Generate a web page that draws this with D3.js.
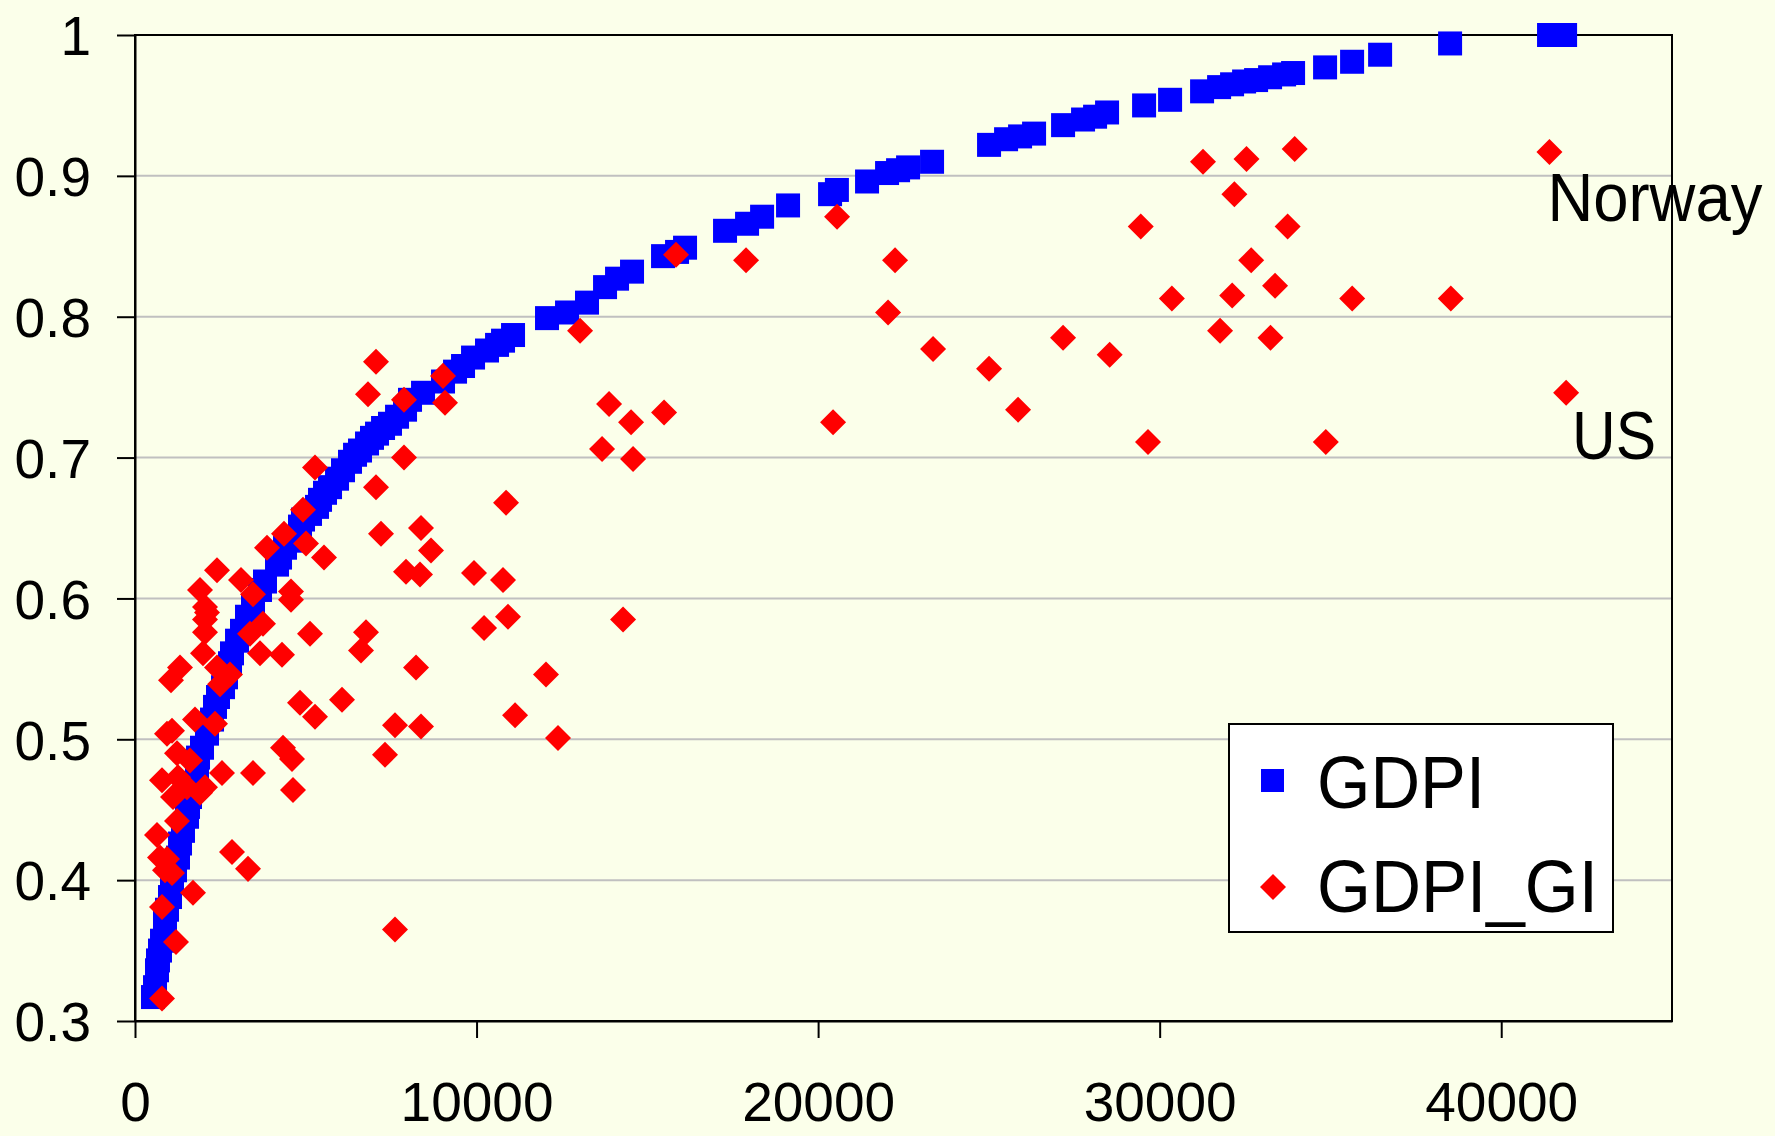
<!DOCTYPE html>
<html>
<head>
<meta charset="utf-8">
<script src="https://cdn.jsdelivr.net/npm/d3@7"></script>
<style>
  body { margin: 0; background: #fbffea; }
  svg { display: block; }
  text { font-family: "Liberation Sans", Arial, sans-serif; fill: #000; }
</style>
</head>
<body>
<svg id="chart" width="1775" height="1136"></svg>
<script>
var gdpiIncome = [527, 586, 644, 673, 732, 791, 878, 937, 1025, 1083, 1171, 1259, 1318, 1405, 1523, 1552, 1610, 1698,
  1815, 1845, 1962, 2108, 2255, 2342, 2430, 2577, 2664, 2782, 2840, 2987, 3133, 3279, 3455, 3660, 3806, 4158, 4246,
  4392, 4597, 4831, 4919, 5124, 5329, 5417, 5563, 5710, 5915, 6090, 6295, 6442, 6588, 6793, 6939, 7086, 7262, 7466,
  7672, 7906, 8052, 8433, 9018, 9370, 9604, 9897, 10306, 10600, 10775, 11068, 12063, 12649, 13234, 13762, 14113,
  14552, 15460, 15870, 16104, 17275, 17920, 18360, 19120, 20350, 20550, 21433, 22019, 22341, 22634, 23336, 25005,
  25503, 25913, 26323, 27172, 27757, 28109, 28460, 29544, 30305, 31242, 31740, 32120, 32472, 32823, 33233, 33643,
  33906, 34843, 35634, 36454, 38503, 41400, 41870];
var gdpiValue = [0.317, 0.324, 0.336, 0.343, 0.350, 0.357, 0.371, 0.379, 0.388, 0.398, 0.407, 0.416, 0.426, 0.435, 0.445, 0.452, 0.459, 0.469,
  0.478, 0.487, 0.494, 0.504, 0.514, 0.523, 0.530, 0.537, 0.544, 0.554, 0.561, 0.570, 0.577, 0.587, 0.594, 0.606, 0.612, 0.624, 0.629,
  0.636, 0.641, 0.651, 0.656, 0.660, 0.665, 0.670, 0.675, 0.679, 0.685, 0.691, 0.697, 0.702, 0.705, 0.710, 0.714, 0.717, 0.721, 0.724,
  0.729, 0.734, 0.741, 0.746, 0.754, 0.761, 0.765, 0.771, 0.776, 0.780, 0.783, 0.787, 0.799, 0.803, 0.810, 0.821, 0.827,
  0.832, 0.843, 0.846, 0.849, 0.861, 0.866, 0.871, 0.879, 0.887, 0.890, 0.896, 0.902, 0.904, 0.906, 0.910, 0.922,
  0.926, 0.928, 0.930, 0.936, 0.940, 0.942, 0.945, 0.950, 0.954, 0.960, 0.963, 0.965, 0.967, 0.968, 0.970, 0.972,
  0.973, 0.977, 0.981, 0.986, 0.994, 1.000, 1.000];

// GDPI_GI:
var giIncome = [31268, 32542, 33953, 41411, 32188, 29447, 33746, 32680, 30357, 32124, 33379, 35637, 38524, 31769, 33245,
  28537, 41900, 29658, 34865,
  15840, 17890, 20555, 22253, 22048, 23365, 25005, 27172, 25854, 20438, 13879, 14523, 15489, 13674, 14582, 14289, 13030,
  10863, 10775, 10921, 9926, 10219, 11127, 12034, 12385,
  7056, 6822, 7876, 9018, 9077, 7876, 5270, 7056, 4919, 7203, 8374, 4363, 3865, 5007, 5534, 8667, 7935, 8345, 2401, 3103,
  3455, 4568, 4568, 1903, 2050, 2108, 2050, 2050, 3748, 3367, 5124, 6764, 6617, 8228, 4304, 3660, 1318, 1054, 1991, 2401,
  2782, 2489, 4831, 5270, 6061, 7613, 8374, 1757, 2342, 937, 1083, 1230, 1610, 4333, 4597, 7320, 2547, 3455, 4626, 791,
  1259, 1523, 1903, 2050, 1113, 1230, 644, 732, 937, 878, 1083, 1698, 791, 2840, 3309, 7613, 1200, 791];
var giValue = [0.910, 0.912, 0.919, 0.917, 0.887, 0.864, 0.864, 0.840, 0.813, 0.815, 0.822, 0.813, 0.813, 0.790, 0.785,
  0.773, 0.746, 0.711, 0.711,
  0.844, 0.840, 0.871, 0.840, 0.803, 0.777, 0.763, 0.785, 0.734, 0.725, 0.738, 0.725, 0.732, 0.706, 0.699, 0.585, 0.790,
  0.668, 0.613, 0.587, 0.618, 0.579, 0.517, 0.546, 0.501,
  0.768, 0.745, 0.741, 0.758, 0.739, 0.700, 0.693, 0.679, 0.663, 0.646, 0.650, 0.646, 0.636, 0.639, 0.629, 0.634, 0.619, 0.617, 0.620, 0.613,
  0.603, 0.605, 0.599, 0.606, 0.594, 0.590, 0.585, 0.576, 0.582, 0.575, 0.575, 0.576, 0.563, 0.551, 0.560, 0.561, 0.551, 0.542, 0.561, 0.551,
  0.546, 0.539, 0.526, 0.516, 0.528, 0.510, 0.509, 0.514, 0.511, 0.504, 0.506, 0.490, 0.485, 0.494, 0.486, 0.489, 0.476, 0.476, 0.464, 0.471,
  0.473, 0.466, 0.462, 0.466, 0.459, 0.442, 0.432, 0.416, 0.415, 0.407, 0.405, 0.391, 0.381, 0.420, 0.408, 0.365, 0.356, 0.316];

var xTicks = [0, 10000, 20000, 30000, 40000];
var yTicks = [0.3, 0.4, 0.5, 0.6, 0.7, 0.8, 0.9, 1];
var seriesNames = ['GDPI', 'GDPI_GI'];
var notes = [{name: 'Norway', point: 3}, {name: 'US', point: 16}];

var svg = d3.select('#chart');
var plotLeft = 135, plotRight = 1672, plotTop = 35, plotBottom = 1021;

var x = d3.scaleLinear().domain([0, 45000]).range([plotLeft, plotRight]);
var y = d3.scaleLinear().domain([0.3, 1]).range([plotBottom, plotTop]);

var gdpi = gdpiIncome.map(function(d, i) { return {x: d, y: gdpiValue[i]}; });
var gi = giIncome.map(function(d, i) { return {x: d, y: giValue[i]}; });

// gridlines
svg.append('g')
  .selectAll('line')
  .data(yTicks.slice(1, -1))
  .enter().append('line')
  .attr('x1', plotLeft).attr('x2', plotRight)
  .attr('y1', function(d) { return y(d); })
  .attr('y2', function(d) { return y(d); })
  .attr('stroke', '#c0c0c0')
  .attr('stroke-width', 2);

// plot frame
svg.append('rect')
  .attr('x', plotLeft).attr('y', plotTop)
  .attr('width', plotRight - plotLeft).attr('height', plotBottom - plotTop)
  .attr('fill', 'none')
  .attr('stroke', '#000')
  .attr('stroke-width', 2);

var yAxis = svg.append('g')
  .attr('transform', 'translate(' + plotLeft + ',0)')
  .call(d3.axisLeft(y).tickValues(yTicks).tickSize(18).tickSizeOuter(0).tickPadding(26)
    .tickFormat(d3.format('~g')));

var xAxis = svg.append('g')
  .attr('transform', 'translate(0,' + plotBottom + ')')
  .call(d3.axisBottom(x).tickValues(xTicks).tickSize(17).tickSizeOuter(0).tickPadding(44)
    .tickFormat(d3.format('d')));

[yAxis, xAxis].forEach(function(ax) {
  ax.select('.domain').attr('stroke', '#000').attr('stroke-width', 2);
  ax.selectAll('.tick line').attr('stroke', '#000').attr('stroke-width', 2);
  ax.selectAll('.tick text').attr('font-size', 55).attr('fill', '#000')
    .style('font-family', '"Liberation Sans", Arial, sans-serif');
});
yAxis.selectAll('.tick text').attr('dy', '0.36em');

var sq = 24;
svg.append('g')
  .selectAll('rect')
  .data(gdpi)
  .enter().append('rect')
  .attr('x', function(d) { return x(d.x) - sq / 2; })
  .attr('y', function(d) { return y(d.y) - sq / 2; })
  .attr('width', sq).attr('height', sq)
  .attr('fill', '#0000ff');

var diamond = d3.symbol().type(d3.symbolSquare).size(338);
svg.append('g')
  .selectAll('path')
  .data(gi)
  .enter().append('path')
  .attr('d', diamond)
  .attr('transform', function(d) { return 'translate(' + x(d.x) + ',' + y(d.y) + ') rotate(45)'; })
  .attr('fill', '#ff0000');

// country notes
var noteDx = {Norway: -2, US: 6}, noteDy = {Norway: 69, US: 66}, noteW = {Norway: 215, US: 84};
svg.append('g')
  .selectAll('text')
  .data(notes)
  .enter().append('text')
  .attr('x', function(d) { return x(gi[d.point].x) + noteDx[d.name]; })
  .attr('y', function(d) { return y(gi[d.point].y) + noteDy[d.name]; })
  .attr('font-size', 68)
  .attr('textLength', function(d) { return noteW[d.name]; })
  .attr('lengthAdjust', 'spacingAndGlyphs')
  .text(function(d) { return d.name; });

// legend
var legend = svg.append('g').attr('transform', 'translate(1229,724)');
legend.append('rect')
  .attr('width', 384).attr('height', 208)
  .attr('fill', '#fff').attr('stroke', '#000').attr('stroke-width', 2);
legend.append('rect')
  .attr('x', 32).attr('y', 45).attr('width', 23).attr('height', 23)
  .attr('fill', '#0000ff');
legend.append('path')
  .attr('d', diamond)
  .attr('transform', 'translate(44,163) rotate(45)')
  .attr('fill', '#ff0000');
var legW = [168, 281];
legend.selectAll('text.leg')
  .data(seriesNames)
  .enter().append('text')
  .attr('class', 'leg')
  .attr('x', 88)
  .attr('y', function(d, i) { return 84 + i * 104; })
  .attr('font-size', 75)
  .attr('textLength', function(d, i) { return legW[i]; })
  .attr('lengthAdjust', 'spacingAndGlyphs')
  .text(function(d) { return d; });
</script>
</body>
</html>
